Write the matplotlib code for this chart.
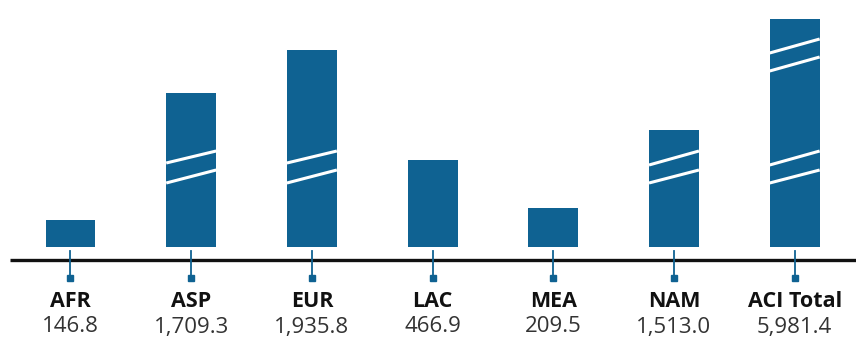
import matplotlib
matplotlib.use("Agg")
import matplotlib.pyplot as plt

# --- dados ---
regioes = ["AFR", "ASP", "EUR", "LAC", "MEA", "NAM", "ACI Total"]
valores = [146.8, 1709.3, 1935.8, 466.9, 209.5, 1513.0, 5981.4]
# altura desenhada (eixo quebrado)
alturas = [27, 154, 197, 87, 39, 117, 228]
# quebras por barra: (y esquerda, y direita) de cada traco branco
quebras = {
    1: [(84, 96), (64, 77)],
    2: [(84, 96), (64, 77)],
    5: [(82, 96), (64, 77)],
    6: [(82, 96), (64, 77), (194, 208), (176, 190)],
}

AZUL = "#0f6292"
LARGURA = 0.414

plt.rcParams['font.family'] = ['Open Sans', 'DejaVu Sans']

fig = plt.figure(figsize=(8.56, 3.38), dpi=100)
ax = fig.add_axes([0, 0, 1, 1])
ax.set_xlim(-0.584, 6.508)
ax.set_ylim(-91, 247)
ax.axis("off")

xs = list(range(len(regioes)))
ax.bar(xs, alturas, width=LARGURA, color=AZUL, align="center", zorder=2)

# tracos de quebra
for i, pares in quebras.items():
    for y0, y1 in pares:
        ax.plot([i - LARGURA / 2, i + LARGURA / 2], [y0, y1],
                color="white", linewidth=2.2, solid_capstyle="butt", zorder=3)

# linha de base
ax.plot([-0.5, 6.6], [-13, -13], color="#111111", linewidth=2.4,
        solid_capstyle="butt", zorder=2, clip_on=False)

for i, (nome, v) in enumerate(zip(regioes, valores)):
    ax.plot([i, i], [-4, -30], color=AZUL, linewidth=1.3, zorder=3)
    ax.plot(i, -31, marker="s", markersize=4.5, color=AZUL, zorder=3)
    ax.text(i, -59.7, nome, ha="center", va="baseline", fontsize=15.5,
            fontweight="bold", color="#111111")
    ax.text(i, -85.5, f"{v:,.1f}", ha="center", va="baseline", fontsize=16,
            color="#333333")

fig.savefig("out.png", dpi=100)
